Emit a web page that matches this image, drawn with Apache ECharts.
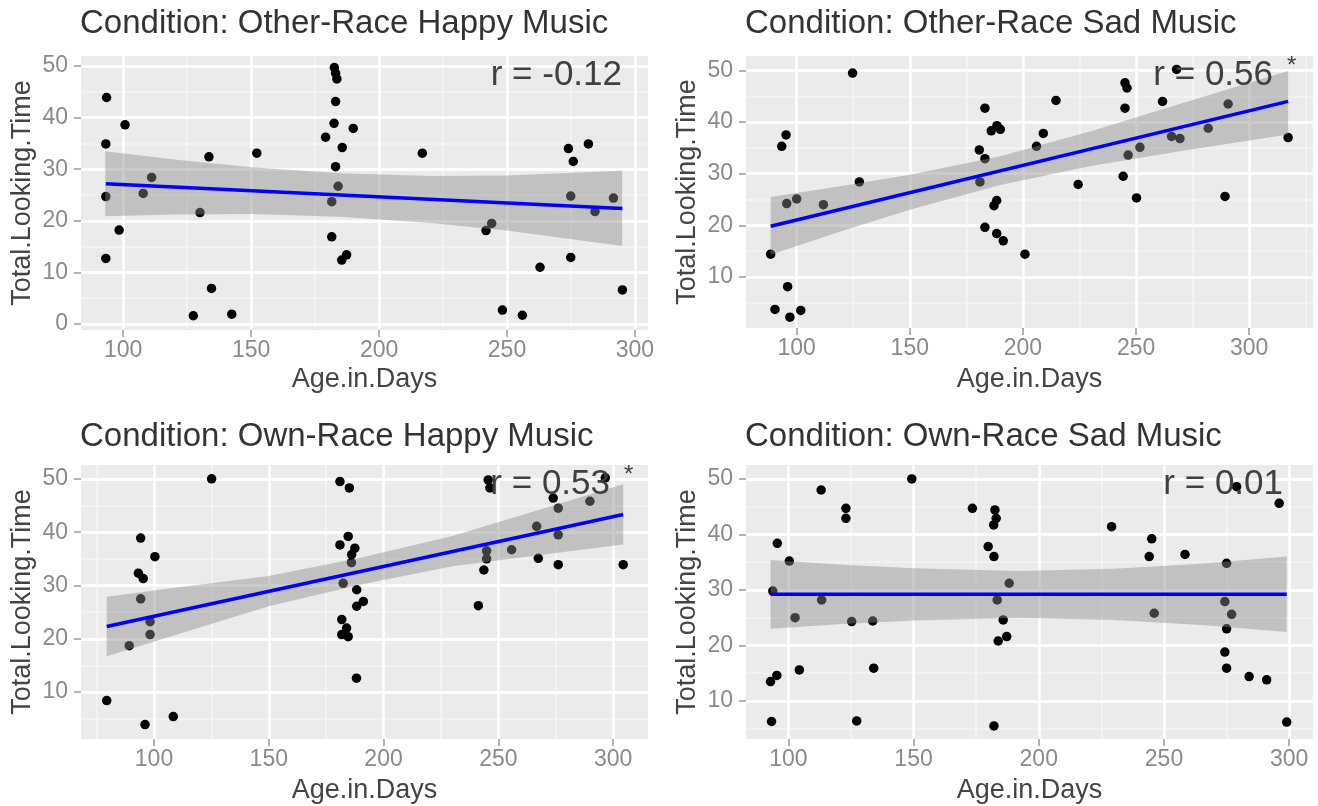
<!DOCTYPE html>
<html>
<head>
<meta charset="utf-8">
<script src="https://cdn.jsdelivr.net/npm/echarts@6/dist/echarts.min.js"></script>
<style>
  html, body { margin: 0; padding: 0; background: #ffffff; }
  #chart { width: 1318px; height: 806px; }
</style>
</head>
<body>
<div id="chart"></div>
<script>
// ---- Facet titles and correlation labels ----
const panelTitles = [
  'Condition: Other-Race Happy Music',
  'Condition: Other-Race Sad Music',
  'Condition: Own-Race Happy Music',
  'Condition: Own-Race Sad Music'
];
const corrLabels = ['r = -0.12', 'r = 0.56', 'r = 0.53', 'r = 0.01'];
const corrStars = ['', '*', '*', ''];
const xAxisTitle = 'Age.in.Days';
const yAxisTitle = 'Total.Looking.Time';

// ---- Axis breaks ----
const xTickValues = [100, 150, 200, 250, 300];
const xMinorValues = [75, 125, 175, 225, 275, 325];
const yTickValues = [0, 10, 20, 30, 40, 50];
const yMinorValues = [5, 15, 25, 35, 45];

// ---- Other-Race Happy Music ----
const ageOtherHappy = [182.5, 183, 183.5, 93.5, 100.7, 93.2, 133.5, 152.2, 111.1, 107.8, 93.2, 130, 98.4, 93.2, 134.5, 127.4, 142.4,
  183, 182.4, 189.9, 179.1, 185.6, 183, 184, 181.5, 181.5, 187.3, 185.4,
  216.9, 274, 281.8, 275.9, 274.9, 291.6, 284.4, 244, 241.8, 274.9, 262.9, 295.1, 248.2, 256];
const timeOtherHappy = [49.7, 48.6, 47.5, 43.9, 38.6, 34.9, 32.4, 33.1, 28.4, 25.3, 24.7, 21.6, 18.2, 12.7, 6.9, 1.6, 1.9,
  43.1, 38.9, 37.9, 36.2, 34.2, 30.5, 26.7, 23.7, 16.9, 13.4, 12.4,
  33.1, 34.0, 34.9, 31.5, 24.8, 24.4, 21.8, 19.5, 18.1, 12.9, 11.0, 6.6, 2.7, 1.7];
const fitAgeOtherHappy = [93.2, 295.1];
const fitTimeOtherHappy = [27.2, 22.4];
const bandAgeOtherHappy = [93, 120, 150, 185, 220, 250, 295];
const bandLowOtherHappy = [20.9, 21.2, 21.3, 20.8, 19.6, 18.1, 15.1];
const bandHighOtherHappy = [33.5, 31.9, 30.4, 29.2, 28.7, 28.8, 29.7];

// ---- Other-Race Sad Music ----
const ageOtherSad = [124.7, 183.2, 186, 188.5, 190, 95.3, 93.4, 180.7, 183.2, 127.7, 181, 95.6, 100, 111.8, 188.4, 187.2, 183.2, 188.4, 191.3,
  200.9, 88.5, 96, 90.4, 97, 101.8, 245.1, 246, 267.9, 214.6, 245.1, 261.7, 290.7, 209, 206, 246.5, 251.7, 265.7, 269.4, 281.9,
  317.2, 224.4, 244.3, 250.2, 289.3];
const timeOtherSad = [49.5, 42.7, 38.3, 39.3, 38.6, 37.5, 35.3, 34.6, 32.9, 28.4, 28.4, 24.2, 25.1, 24.0, 24.8, 23.8, 19.6, 18.4, 17.0,
  14.4, 14.4, 8.1, 3.7, 2.2, 3.5, 47.6, 46.6, 50.2, 44.2, 42.7, 44.0, 43.5, 37.8, 35.3, 33.6, 35.1, 37.2, 36.8, 38.8,
  37.0, 27.9, 29.5, 25.3, 25.6];
const fitAgeOtherSad = [88.5, 317.2];
const fitTimeOtherSad = [19.8, 44.0];
const bandAgeOtherSad = [88.5, 120, 150, 190, 230, 270, 317.2];
const bandLowOtherSad = [14.3, 18.9, 23.0, 27.8, 31.5, 34.4, 37.6];
const bandHighOtherSad = [25.5, 27.6, 29.8, 33.4, 38.2, 43.6, 49.9];

// ---- Own-Race Happy Music ----
const ageOwnHappy = [125.1, 181, 185.1, 94.2, 100.4, 93.2, 95.3, 94.2, 98.3, 98.3, 89.2, 79.4, 96.1, 108.4,
  184.6, 181, 187.5, 186.1, 186, 182.4, 188.3, 191.2, 188.3, 181.8, 183.9, 184.6, 181.8, 188.2,
  243.7, 244.9, 244.9, 241.3, 266.7, 255.8, 267.4, 276.1, 276.1, 304.4, 245.6, 246.3, 273.9, 276.1, 289.9, 296.6];
const timeOwnHappy = [50.0, 49.5, 48.3, 38.9, 35.4, 32.3, 31.3, 27.5, 23.2, 20.8, 18.7, 8.4, 3.9, 5.4,
  39.2, 37.6, 37.0, 35.8, 34.3, 30.4, 29.2, 27.0, 26.1, 23.6, 22.0, 20.4, 20.8, 12.6,
  32.9, 36.5, 35.0, 26.2, 41.1, 36.7, 35.1, 33.9, 39.5, 33.9, 49.8, 48.3, 46.4, 44.5, 45.8, 50.2];
const fitAgeOwnHappy = [79.4, 304.4];
const fitTimeOwnHappy = [22.3, 43.3];
const bandAgeOwnHappy = [79.4, 110, 150, 190, 230, 270, 304.4];
const bandLowOwnHappy = [16.7, 20.8, 26.1, 30.2, 33.6, 35.8, 37.7];
const bandHighOwnHappy = [27.9, 29.6, 31.8, 35.2, 39.3, 44.5, 49.0];

// ---- Own-Race Sad Music ----
const ageOwnSad = [149.3, 113.1, 123, 123, 173.5, 182.5, 183, 182, 95.6, 100.4, 179.8, 182.1, 93.8, 113.3, 188.2, 183.4, 102.7, 125.3,
  133.7, 185.8, 187.2, 183.8, 104.4, 134.1, 95.4, 92.9, 93.3, 127.3, 182.1,
  229.1, 245.1, 244.1, 258.4, 275, 279, 296, 274.3, 277, 246.1, 275, 274.3, 275, 284, 291, 299];
const timeOwnSad = [50.0, 48.0, 44.7, 42.9, 44.7, 44.4, 42.9, 41.7, 38.4, 35.2, 37.8, 36.0, 29.8, 28.2, 31.2, 28.2, 25.0, 24.3,
  24.4, 24.6, 21.6, 20.8, 15.6, 15.9, 14.6, 13.5, 6.3, 6.4, 5.5,
  41.4, 39.2, 36.0, 36.4, 34.8, 48.6, 45.6, 27.9, 25.6, 25.8, 23.0, 18.8, 15.9, 14.4, 13.8, 6.2];
const fitAgeOwnSad = [92.9, 299];
const fitTimeOwnSad = [29.2, 29.2];
const bandAgeOwnSad = [92.9, 120, 150, 192, 230, 265, 299];
const bandLowOwnSad = [23.0, 23.8, 24.5, 25.0, 24.6, 23.7, 22.4];
const bandHighOwnSad = [35.4, 34.6, 33.9, 33.4, 33.8, 34.7, 36.0];

// ---- Panel layout: plot rectangles and axis ranges ----
const panels = [
  { ages: ageOtherHappy, times: timeOtherHappy, fitAge: fitAgeOtherHappy, fitTime: fitTimeOtherHappy,
    bandAge: bandAgeOtherHappy, bandLow: bandLowOtherHappy, bandHigh: bandHighOtherHappy,
    rect: { left: 81, top: 56, width: 567, height: 274 }, xr: [83.5, 305.1], yr: [-1.16, 51.94] },
  { ages: ageOtherSad, times: timeOtherSad, fitAge: fitAgeOtherSad, fitTime: fitTimeOtherSad,
    bandAge: bandAgeOtherSad, bandLow: bandLowOtherSad, bandHigh: bandHighOtherSad,
    rect: { left: 746, top: 56, width: 567, height: 272 }, xr: [77.6, 328.2], yr: [0.1, 52.8] },
  { ages: ageOwnHappy, times: timeOwnHappy, fitAge: fitAgeOwnHappy, fitTime: fitTimeOwnHappy,
    bandAge: bandAgeOwnHappy, bandLow: bandLowOwnHappy, bandHigh: bandHighOwnHappy,
    rect: { left: 81, top: 465, width: 567, height: 274 }, xr: [68.2, 315.2], yr: [1.2, 52.6] },
  { ages: ageOwnSad, times: timeOwnSad, fitAge: fitAgeOwnSad, fitTime: fitTimeOwnSad,
    bandAge: bandAgeOwnSad, bandLow: bandLowOwnSad, bandHigh: bandHighOwnSad,
    rect: { left: 746, top: 465, width: 567, height: 274 }, xr: [83.1, 309.5], yr: [3.15, 52.5] }
];

const FONT = '"Liberation Sans", Arial, sans-serif';
const TICK_COLOR = '#8a8a8a';
const inRange = (v, r) => v > r[0] && v < r[1];

const grids = [], xAxes = [], yAxes = [], series = [], graphics = [];

panels.forEach((p, i) => {
  grids.push({ ...p.rect, show: true, backgroundColor: '#ebebeb', borderWidth: 0, containLabel: false });

  const xt = xTickValues.filter(v => inRange(v, p.xr));
  const yt = yTickValues.filter(v => inRange(v, p.yr));
  xAxes.push({
    type: 'value', gridIndex: i, min: p.xr[0], max: p.xr[1],
    splitLine: { show: false },
    axisLine: { show: false, onZero: false },
    axisTick: { show: true, length: 7, customValues: xt, lineStyle: { color: '#999999', width: 1.5 } },
    axisLabel: { customValues: xt, color: TICK_COLOR, fontSize: 23, fontFamily: FONT, margin: 9 }
  });
  yAxes.push({
    type: 'value', gridIndex: i, min: p.yr[0], max: p.yr[1],
    splitLine: { show: false },
    axisLine: { show: false, onZero: false },
    axisTick: { show: true, length: 7, customValues: yt, lineStyle: { color: '#999999', width: 1.5 } },
    axisLabel: { customValues: yt, color: TICK_COLOR, fontSize: 23, fontFamily: FONT, margin: 13 }
  });

  // background grid lines (minor under major)
  const minorStyle = { color: '#f5f5f5', width: 1.6, type: 'solid' };
  const majorStyle = { color: '#fdfdfd', width: 2.8, type: 'solid' };
  const lines = [
    ...xMinorValues.filter(v => inRange(v, p.xr)).map(v => ({ xAxis: v, lineStyle: minorStyle })),
    ...yMinorValues.filter(v => inRange(v, p.yr)).map(v => ({ yAxis: v, lineStyle: minorStyle })),
    ...xt.map(v => ({ xAxis: v, lineStyle: majorStyle })),
    ...yt.map(v => ({ yAxis: v, lineStyle: majorStyle }))
  ];
  series.push({
    type: 'scatter', xAxisIndex: i, yAxisIndex: i, data: [], silent: true, z: 1,
    markLine: { z: 1, silent: true, animation: false, symbol: ['none', 'none'],
      label: { show: false }, emphasis: { disabled: true }, data: lines }
  });

  // observations
  series.push({
    type: 'scatter', xAxisIndex: i, yAxisIndex: i, z: 2, silent: true,
    symbol: 'circle', symbolSize: 9.5, itemStyle: { color: '#000000', opacity: 1 },
    data: p.ages.map((a, k) => [a, p.times[k]])
  });

  // confidence band of the linear fit
  series.push({
    type: 'custom', xAxisIndex: i, yAxisIndex: i, z: 3, silent: true,
    data: [[p.bandAge[0], p.bandLow[0]]],
    renderItem: (params, api) => {
      const pts = [];
      p.bandAge.forEach((a, k) => pts.push(api.coord([a, p.bandHigh[k]])));
      for (let k = p.bandAge.length - 1; k >= 0; k--) pts.push(api.coord([p.bandAge[k], p.bandLow[k]]));
      return { type: 'polygon', shape: { points: pts }, style: { fill: 'rgba(138,138,138,0.44)' } };
    }
  });

  // linear fit
  series.push({
    type: 'line', xAxisIndex: i, yAxisIndex: i, z: 4, silent: true, symbol: 'none',
    lineStyle: { color: '#0000ff', width: 3.5 },
    data: p.fitAge.map((a, k) => [a, p.fitTime[k]])
  });

  const r = p.rect;
  const lower = i >= 2;
  // facet title
  graphics.push({ type: 'text', x: r.left - 1, y: r.top - (lower ? 28 : 32), silent: true,
    style: { text: panelTitles[i], font: '33px ' + FONT, fill: '#333333', textAlign: 'left', textVerticalAlign: 'middle' } });
  // axis titles
  graphics.push({ type: 'text', x: r.left + r.width / 2, y: (lower ? 791 : 379.5), silent: true,
    style: { text: xAxisTitle, font: '27px ' + FONT, fill: '#444444', textAlign: 'center', textVerticalAlign: 'middle' } });
  graphics.push({ type: 'text', x: r.left - 58, y: r.top + r.height / 2, rotation: Math.PI / 2, silent: true,
    style: { text: yAxisTitle, font: '27px ' + FONT, fill: '#444444', textAlign: 'center', textVerticalAlign: 'middle' } });
});

// correlation annotations
const corrPos = [
  { x: 622, y: 75 }, { x: 1273, y: 75 }, { x: 610, y: 484 }, { x: 1283, y: 484 }
];
corrLabels.forEach((t, i) => {
  graphics.push({ type: 'text', x: corrPos[i].x, y: corrPos[i].y, silent: true, z: 10,
    style: { text: t, font: '35px ' + FONT, fill: '#404040', textAlign: 'right', textVerticalAlign: 'middle' } });
  if (corrStars[i]) {
    graphics.push({ type: 'text', x: corrPos[i].x + 14, y: corrPos[i].y - 9, silent: true, z: 10,
      style: { text: corrStars[i], font: '24px ' + FONT, fill: '#404040', textAlign: 'left', textVerticalAlign: 'middle' } });
  }
});

const chart = echarts.init(document.getElementById('chart'), null, { renderer: 'canvas' });
chart.setOption({
  animation: false,
  backgroundColor: '#ffffff',
  grid: grids,
  xAxis: xAxes,
  yAxis: yAxes,
  series: series,
  graphic: graphics
});
</script>
</body>
</html>
